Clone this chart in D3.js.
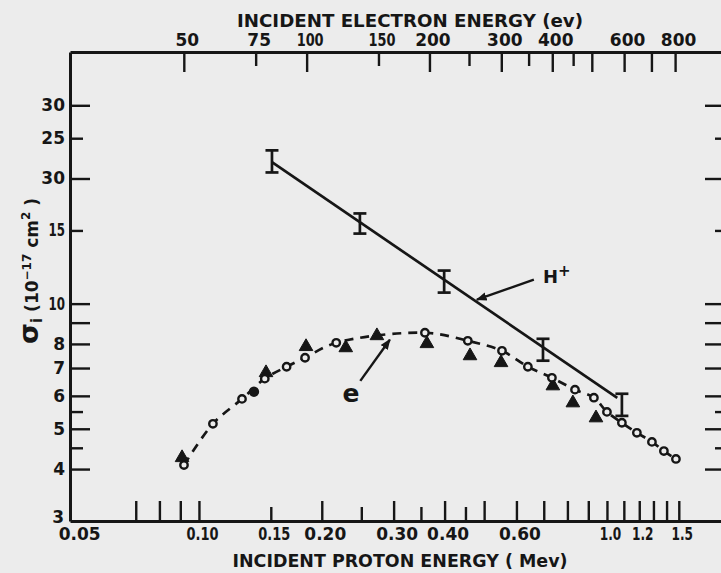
<!DOCTYPE html>
<html><head><meta charset="utf-8">
<script src="https://cdn.jsdelivr.net/npm/d3@7"></script>
<style>html,body{margin:0;padding:0;background:#ececec;} svg{display:block;}</style>
</head><body>
<script>
// ---------- data ----------
const xDomain = [0.0483, 1.925];          // incident proton energy (MeV)
const yDomain = [3, 40.3];                // sigma_i (1e-17 cm^2)
const EV_PER_MEV = 544.6;                 // electron energy (eV) with same velocity as 1 MeV proton

const protonMajorTicks = [0.07,0.08,0.09,0.10,0.20,0.30,0.40,0.50,0.60,0.70,0.80,0.90,1.0,1.1,1.2,1.3,1.4,1.5];
const protonMinorTicks = [0.15,0.25,0.35,0.45];
const protonLabelValues = [0.05,0.10,0.15,0.20,0.30,0.40,0.60,1.0,1.2,1.5];
const protonLabels = ["0.05","0.10","0.15","0.20","0.30","0.40","0.60","1.0","1.2","1.5"];

const electronMajorTicks = [50,100,200,300,400,500,600,700,800];
const electronMinorTicks = [75,150,250,350,450];
const electronLabelValues = [50,75,100,150,200,300,400,600,800];
const electronLabels = ["50","75","100","150","200","300","400","600","800"];

const sigmaMajorTicks = [30,20,10,9,8,7,6,5,4];
const sigmaMinorTicks = [25,15,5.5,4.5];
const sigmaLabelValues = [30,25,20,15,10,8,7,6,5,4,3];
const sigmaLabels = ["30","25","30","15","10","8","7","6","5","4","3"];

// H+ measurements with error bars, and fitted straight line
const hPlusE     = [0.151, 0.248, 0.399, 0.697, 1.088];
const hPlusSigma = [22.1, 15.6, 11.3, 7.75, 5.71];
const hPlusUpper = [23.37, 16.48, 12.01, 8.23, 6.07];
const hPlusLower = [20.68, 14.74, 10.63, 7.29, 5.37];
const hPlusLineE     = [0.151, 1.06];
const hPlusLineSigma = [21.9, 5.93];

// electron impact: open circles (joined by dashed curve)
const eCircleE     = [0.0919,0.1082,0.1275,0.145,0.164,0.182,0.217,0.358,0.456,0.553,0.640,0.733,0.835,0.929,1.0,1.088,1.184,1.289,1.379,1.476];
const eCircleSigma = [4.09,5.14,5.90,6.60,7.05,7.41,8.05,8.51,8.14,7.70,7.05,6.63,6.21,5.94,5.49,5.17,4.89,4.65,4.42,4.23];
// filled triangles
const eTriE     = [0.0909,0.146,0.183,0.229,0.273,0.362,0.4617,0.550,0.737,0.825,0.940];
const eTriSigma = [4.26,6.82,7.88,7.83,8.37,8.01,7.49,7.21,6.34,5.77,5.31];
// filled circle
const eDotE = [0.1364];
const eDotSigma = [6.14];

// annotations (data coordinates)
const hLabel = {E:0.697, s:11.2, text:"H"};
const hArrow = {from:[0.662,11.42], to:[0.480,10.22]};
const eLabel = {E:0.2357, s:5.81, text:"e"};
const eArrow = {from:[0.2486,6.52], to:[0.2937,8.19]};

// ---------- drawing ----------
const W = 721, H = 573;
const M = {left:70, right:723, top:52, bottom:521};
const INK = "#161616", BG = "#ececec";
const FONT = "'DejaVu Sans', sans-serif";

const svg = d3.select("body").append("svg").attr("width",W).attr("height",H);
svg.append("rect").attr("width",W).attr("height",H).attr("fill",BG);

const x = d3.scaleLog().domain(xDomain).range([M.left, M.right]);
const xTop = d3.scaleLog().domain(xDomain.map(d=>d*EV_PER_MEV)).range([M.left, M.right]);
const y = d3.scaleLog().domain(yDomain).range([M.bottom, M.top]);

// hand-lettered labels use a narrow "1": estimate their width
function letterWidth(s){
  let w = 0;
  for(const c of s){ w += c==="1" ? 6 : c==="." ? 5 : 10.5; }
  return w;
}

function styleAxis(g, keepDomain){
  if(!keepDomain) g.select(".domain").remove();
  else g.select(".domain").attr("stroke",INK).attr("stroke-width",3);
  g.selectAll(".tick line").attr("stroke",INK).attr("stroke-width",2.4);
  g.selectAll("text").attr("fill",INK).style("font-family",FONT).style("font-weight","bold").style("font-size","17px");
  g.attr("font-family",null).attr("font-size",null);
}
function tickAxis(axisFn, scale, values, size, tr, keepDomain){
  const g = svg.append("g").attr("transform",tr)
    .call(axisFn(scale).tickValues(values).tickSizeInner(-size).tickSizeOuter(0).tickFormat(""));
  styleAxis(g, keepDomain);
  return g;
}
function labelAxis(axisFn, scale, values, labels, pad, tr, dx){
  const g = svg.append("g").attr("transform",tr)
    .call(axisFn(scale).tickValues(values).tickSize(0).tickPadding(pad).tickFormat((d,i)=>labels[i]));
  styleAxis(g, false);
  g.selectAll(".tick line").remove();
  if(dx) g.selectAll("text").attr("dx",dx);
  g.selectAll("text").each(function(){
    const t = d3.select(this).text();
    if(t.includes("1")) d3.select(this).attr("textLength",letterWidth(t)).attr("lengthAdjust","spacingAndGlyphs");
  });
  return g;
}

// bottom axis
tickAxis(d3.axisBottom, x, protonMajorTicks, 20, `translate(0,${M.bottom})`, true);
tickAxis(d3.axisBottom, x, protonMinorTicks, 14, `translate(0,${M.bottom})`, false);
labelAxis(d3.axisBottom, x, protonLabelValues, protonLabels, 7, `translate(0,${M.bottom})`, 3);
// top axis
tickAxis(d3.axisTop, xTop, electronMajorTicks, 20, `translate(0,${M.top})`, true);
tickAxis(d3.axisTop, xTop, electronMinorTicks, 14, `translate(0,${M.top})`, false);
labelAxis(d3.axisTop, xTop, electronLabelValues, electronLabels, 6, `translate(0,${M.top})`, 3);
// left axis
tickAxis(d3.axisLeft, y, sigmaMajorTicks, 20, `translate(${M.left},0)`, true);
tickAxis(d3.axisLeft, y, sigmaMinorTicks, 13, `translate(${M.left},0)`, false);
const leftLab = labelAxis(d3.axisLeft, y, sigmaLabelValues, sigmaLabels, 5, `translate(${M.left},0)`, 0);
leftLab.selectAll(".tick").filter(d=>d===3).select("text").attr("y",-4).attr("x",-6);
// right axis (ticks only)
tickAxis(d3.axisRight, y, sigmaMajorTicks, 18, `translate(${M.right},0)`, true);
tickAxis(d3.axisRight, y, sigmaMinorTicks, 8, `translate(${M.right},0)`, false);

// axis titles
svg.append("text").attr("x",400).attr("y",567)
  .attr("text-anchor","middle").attr("fill",INK)
  .attr("textLength",335).attr("lengthAdjust","spacingAndGlyphs")
  .style("font-family",FONT).style("font-weight","bold").style("font-size","18px")
  .text("INCIDENT PROTON ENERGY ( Mev)");
svg.append("text").attr("x",410).attr("y",27)
  .attr("text-anchor","middle").attr("fill",INK)
  .attr("textLength",346).attr("lengthAdjust","spacingAndGlyphs")
  .style("font-family",FONT).style("font-weight","bold").style("font-size","18px")
  .text("INCIDENT ELECTRON ENERGY (ev)");

const yt = svg.append("text").attr("transform","translate(38,344) rotate(-90)")
  .attr("fill",INK).style("font-family",FONT).style("font-weight","bold");
yt.append("tspan").style("font-size","27px").text("σ");
yt.append("tspan").style("font-size","15px").attr("dy",4).text("i");
yt.append("tspan").style("font-size","17px").attr("dy",-4).text(" (10");
yt.append("tspan").style("font-size","12px").attr("dy",-7).text("−17");
yt.append("tspan").style("font-size","17px").attr("dy",7).text(" cm");
yt.append("tspan").style("font-size","12px").attr("dy",-8).text("2");
yt.append("tspan").style("font-size","17px").attr("dy",8).text(" )");

// plot content
const plot = svg.append("g");
const line = d3.line().x(d=>x(d[0])).y(d=>y(d[1]));

// H+ fitted line
plot.append("path").datum(hPlusLineE.map((e,i)=>[e,hPlusLineSigma[i]]))
  .attr("d",line).attr("fill","none").attr("stroke",INK).attr("stroke-width",2.7);
// error bars
const eb = plot.selectAll("g.eb").data(hPlusE.map((e,i)=>({e,u:hPlusUpper[i],l:hPlusLower[i]})))
  .join("g").attr("class","eb").attr("stroke",INK).attr("stroke-width",2.7);
eb.append("line").attr("x1",d=>x(d.e)).attr("x2",d=>x(d.e)).attr("y1",d=>y(d.u)).attr("y2",d=>y(d.l));
eb.append("line").attr("x1",d=>x(d.e)-6.5).attr("x2",d=>x(d.e)+6.5).attr("y1",d=>y(d.u)).attr("y2",d=>y(d.u));
eb.append("line").attr("x1",d=>x(d.e)-6.5).attr("x2",d=>x(d.e)+6.5).attr("y1",d=>y(d.l)).attr("y2",d=>y(d.l));

// electron dashed curve
plot.append("path").datum(eCircleE.map((e,i)=>[e,eCircleSigma[i]]))
  .attr("d",line.curve(d3.curveCatmullRom.alpha(0.5)))
  .attr("fill","none").attr("stroke",INK).attr("stroke-width",2.7).attr("stroke-dasharray","9,7");

// triangles
plot.selectAll("path.tri").data(eTriE.map((e,i)=>[e,eTriSigma[i]])).join("path").attr("class","tri")
  .attr("transform",d=>`translate(${x(d[0])},${y(d[1])})`)
  .attr("d",d3.symbol(d3.symbolTriangle,80)).attr("fill",INK).attr("stroke",INK).attr("stroke-width",1);
// filled dot
plot.selectAll("circle.dot").data(eDotE.map((e,i)=>[e,eDotSigma[i]])).join("circle").attr("class","dot")
  .attr("cx",d=>x(d[0])).attr("cy",d=>y(d[1])).attr("r",5.2).attr("fill",INK);
// open circles
plot.selectAll("circle.oc").data(eCircleE.map((e,i)=>[e,eCircleSigma[i]])).join("circle").attr("class","oc")
  .attr("cx",d=>x(d[0])).attr("cy",d=>y(d[1])).attr("r",3.7)
  .attr("fill",BG).attr("stroke",INK).attr("stroke-width",2.4);

// annotations
const defs = svg.append("defs");
defs.append("marker").attr("id","ah").attr("viewBox","0 0 10 10").attr("refX",9).attr("refY",5)
  .attr("markerWidth",4.5).attr("markerHeight",4.5).attr("orient","auto").attr("markerUnits","strokeWidth")
  .append("path").attr("d","M0,1 L10,5 L0,9 Z").attr("fill",INK);

[hArrow,eArrow].forEach(a=>{
  plot.append("line").attr("x1",x(a.from[0])).attr("y1",y(a.from[1]))
    .attr("x2",x(a.to[0])).attr("y2",y(a.to[1]))
    .attr("stroke",INK).attr("stroke-width",2.4).attr("marker-end","url(#ah)");
});
const ht = plot.append("text").attr("x",x(hLabel.E)).attr("y",y(hLabel.s)).attr("fill",INK)
  .style("font-family",FONT).style("font-weight","bold").style("font-size","18px");
ht.append("tspan").text(hLabel.text);
ht.append("tspan").attr("dy",-7).style("font-size","15px").text("+");
plot.append("text").attr("x",x(eLabel.E)).attr("y",y(eLabel.s)).attr("text-anchor","middle").attr("fill",INK)
  .style("font-family",FONT).style("font-weight","bold").style("font-size","25px").text(eLabel.text);
</script>
</body></html>
